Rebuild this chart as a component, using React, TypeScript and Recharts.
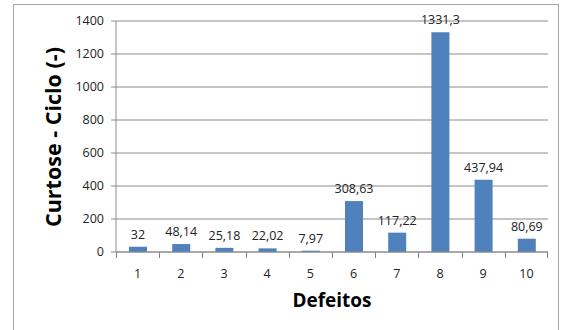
import React from "react";
import { BarChart, Bar, XAxis, YAxis, CartesianGrid, LabelList, Label } from "recharts";

const defeitos = ["1", "2", "3", "4", "5", "6", "7", "8", "9", "10"];
const curtose = [32, 48.14, 25.18, 22.02, 7.97, 308.63, 117.22, 1331.3, 437.94, 80.69];
const yTicks = [0, 200, 400, 600, 800, 1000, 1200, 1400];

const data = defeitos.map((d, i) => ({ d, v: curtose[i] }));

const FONT = "'Open Sans', 'DejaVu Sans', sans-serif";
const tickStyle = { fontSize: 12.5, fill: "#222", fontFamily: FONT };
const AXIS = "#8c8c8c";

// category label + Excel-style tick marks on the category boundaries
function CatTick(props: any) {
  const { x, y, payload, index } = props;
  const half = payload.offset;
  const left = Math.round(x - half) + 0.5;
  const right = Math.round(x + half) - 0.5;
  const last = index === defeitos.length - 1;
  return (
    <g>
      <line x1={left} x2={left} y1={y} y2={y + 6} stroke="#808080" strokeWidth={1} />
      {last && <line x1={right} x2={right} y1={y} y2={y + 6} stroke="#808080" strokeWidth={1} />}
      <text x={x} y={y + 26} textAnchor="middle" {...tickStyle}>
        {payload.value}
      </text>
    </g>
  );
}

export default function App() {
  return (
    <div style={{ position: "absolute", left: 0, top: 0, width: 561, height: 330, background: "#fff", overflow: "hidden" }}>
      <div style={{ position: "absolute", left: 13, top: 4, width: 544, height: 340, border: "1px solid #a6a6a6" }} />
      <div style={{ position: "absolute", left: 0, top: 0 }}>
        <BarChart width={561} height={330} data={data} margin={{ top: 21, right: 13, bottom: 48, left: 0 }} barCategoryGap={0}>
          <CartesianGrid vertical={false} stroke={AXIS} />
          <XAxis
            dataKey="d"
            tickLine={false}
            tickSize={0}
            tickMargin={0}
            axisLine={{ stroke: AXIS }}
            tick={(p: any) => <CatTick {...p} />}
            height={30}
            interval={0}
            label={{
              content: () => (
                <text x={332} y={307} textAnchor="middle" fontFamily={FONT} fontWeight="bold" fontSize={19} fill="#000">
                  Defeitos
                </text>
              ),
            }}
          />
          <YAxis
            width={116}
            domain={[0, 1400]}
            ticks={yTicks}
            tick={tickStyle}
            tickSize={5}
            tickMargin={7}
            tickLine={{ stroke: AXIS }}
            axisLine={{ stroke: AXIS }}
          >
            <Label
              content={() => (
                <text
                  x={61}
                  y={137}
                  transform="rotate(-90 61 137)"
                  textAnchor="middle"
                  fontFamily={FONT}
                  fontWeight="bold"
                  fontSize={21.5}
                  fill="#000"
                >
                  Curtose - Ciclo (-)
                </text>
              )}
            />
          </YAxis>
          <Bar dataKey="v" fill="#4f81bd" barSize={18} isAnimationActive={false}>
            <LabelList
              dataKey="v"
              position="top"
              offset={8}
              formatter={(v: number) => String(v).replace(".", ",")}
              style={{ fontSize: 12.5, fill: "#222", fontFamily: FONT }}
            />
          </Bar>
        </BarChart>
      </div>
    </div>
  );
}
